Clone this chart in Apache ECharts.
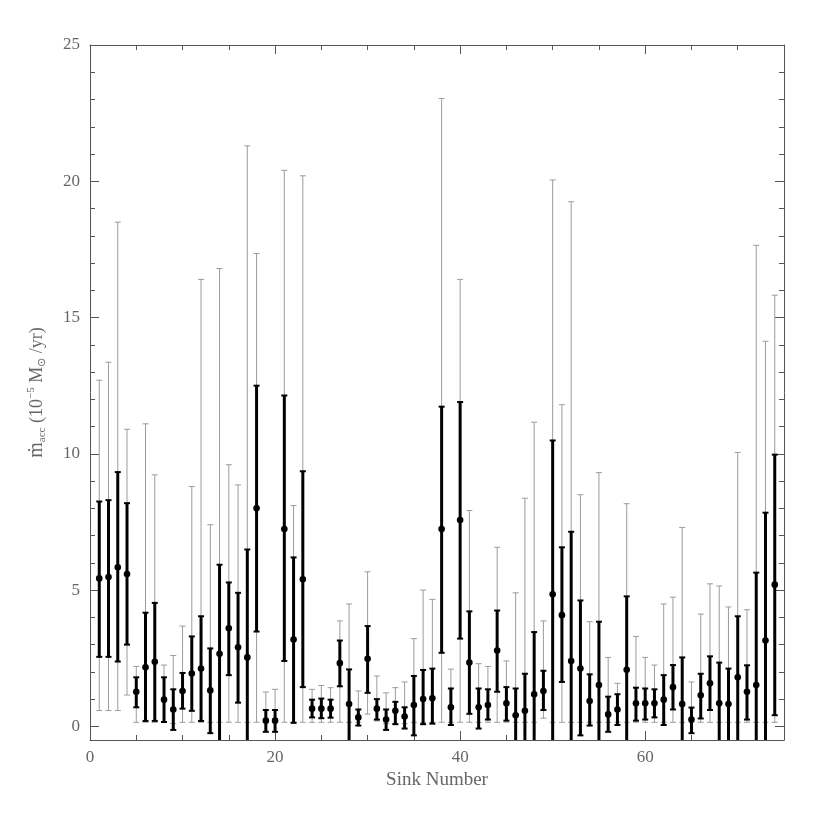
<!DOCTYPE html>
<html>
<head>
<meta charset="utf-8">
<script src="https://cdn.jsdelivr.net/npm/echarts@6/dist/echarts.min.js"></script>
<style>
html, body { margin: 0; padding: 0; background: #fff; }
#main { width: 830px; height: 830px; }
</style>
</head>
<body>
<div id="main"></div>
<script>
// sink number
var sinks = [
    1, 2, 3, 4, 5, 6, 7, 8, 9, 10,
    11, 12, 13, 14, 15, 16, 17, 18, 19, 20,
    21, 22, 23, 24, 25, 26, 27, 28, 29, 30,
    31, 32, 33, 34, 35, 36, 37, 38, 39, 40,
    41, 42, 43, 44, 45, 46, 47, 48, 49, 50,
    51, 52, 53, 54, 55, 56, 57, 58, 59, 60,
    61, 62, 63, 64, 65, 66, 67, 68, 69, 70,
    71, 72, 73, 74
];
// accretion rate (dots)
var rate = [
    5.43, 5.48, 5.84, 5.59, 1.27, 2.17, 2.37, 0.98, 0.62, 1.3,
    1.94, 2.12, 1.32, 2.66, 3.6, 2.9, 2.53, 8.0, 0.21, 0.21,
    7.24, 3.19, 5.4, 0.65, 0.65, 0.65, 2.32, 0.82, 0.33, 2.48,
    0.65, 0.25, 0.57, 0.36, 0.78, 1.0, 1.03, 7.24, 0.7, 7.57,
    2.34, 0.7, 0.78, 2.78, 0.85, 0.41, 0.57, 1.18, 1.3, 4.85,
    4.08, 2.4, 2.12, 0.93, 1.52, 0.44, 0.62, 2.08, 0.85, 0.85,
    0.85, 0.98, 1.44, 0.82, 0.25, 1.14, 1.58, 0.85, 0.82, 1.8,
    1.27, 1.52, 3.15, 5.2
];
// thick bars (1 sigma)
var sigLow = [
    2.55, 2.55, 2.38, 3.0, 0.7, 0.2, 0.2, 0.16, -0.13, 0.65,
    0.57, 0.2, -0.25, -1, 1.88, 0.87, -1, 3.48, -0.2, -0.2,
    2.4, 0.13, 1.44, 0.33, 0.3, 0.32, 1.47, -1, 0.03, 1.23,
    0.25, -0.13, 0.08, -0.08, -0.33, 0.08, 0.1, 2.7, 0.05, 3.22,
    0.46, -0.08, 0.25, 1.27, 0.21, -1, -1, -1, 0.6, -1,
    1.63, -1, -0.33, 0.03, -1, -0.2, 0.05, -1, 0.21, 0.25,
    0.33, 0.05, 0.62, -1, -0.25, 0.29, 0.6, -1, -1, -1,
    0.25, -1, -1, 0.41
];
var sigHigh = [
    8.25, 8.3, 9.33, 8.19, 1.8, 4.17, 4.53, 1.8, 1.36, 1.96,
    3.3, 4.04, 2.86, 5.93, 5.28, 4.9, 6.49, 12.5, 0.6, 0.6,
    12.14, 6.2, 9.36, 0.98, 1.02, 0.98, 3.15, 2.09, 0.62, 3.68,
    1.0, 0.62, 0.9, 0.7, 1.85, 2.07, 2.12, 11.73, 1.39, 11.9,
    4.22, 1.39, 1.36, 4.25, 1.44, 1.39, 1.93, 3.46, 2.04, 10.49,
    6.57, 7.14, 4.62, 1.91, 3.84, 1.09, 1.18, 4.77, 1.42, 1.39,
    1.36, 1.88, 2.25, 2.53, 0.69, 1.93, 2.57, 2.34, 2.12, 4.04,
    2.24, 5.64, 7.84, 9.97
];
// thin bars (full range)
var rangeLow = [
    0.58, 0.58, 0.58, 1.15, 0.15, 0.15, 0.15, 0.15, 0.1, 0.15,
    0.15, 0.15, 0.15, 0.15, 0.15, 0.15, 0.15, 0.15, 0.15, 0.15,
    0.15, 0.15, 0.15, 0.15, 0.15, 0.15, 0.15, 0.15, 0.15, 0.45,
    0.2, 0.1, 0.1, 0.1, 0.15, 0.15, 0.15, 0.15, 0.15, 0.15,
    0.15, 0.15, 0.15, 0.15, 0.15, 0.15, 0.15, 0.15, 0.3, 0.15,
    0.15, 0.15, 0.15, 0.15, 0.15, 0.15, 0.15, 0.15, 0.15, 0.15,
    0.15, 0.15, 0.15, 0.15, 0.15, 0.15, 0.15, 0.15, 0.15, 0.15,
    0.15, 0.15, 0.15, 0.15
];
var rangeHigh = [
    12.7, 13.36, 18.5, 10.9, 2.2, 11.1, 9.23, 2.25, 2.6, 3.68,
    8.8, 16.4, 7.4, 16.8, 9.6, 8.86, 21.3, 17.35, 1.26, 1.36,
    20.4, 8.1, 20.2, 1.36, 1.5, 1.42, 3.87, 4.49, 1.3, 5.67,
    1.85, 1.23, 1.42, 1.63, 3.22, 5.0, 4.66, 23.04, 2.1, 16.4,
    7.92, 2.3, 2.2, 6.57, 2.4, 4.9, 8.37, 11.16, 3.87, 20.05,
    11.8, 19.25, 8.5, 3.84, 9.31, 2.53, 1.58, 8.17, 3.3, 2.53,
    2.25, 4.49, 4.74, 7.3, 1.63, 4.12, 5.23, 5.15, 4.38, 10.05,
    4.28, 17.65, 14.13, 15.82
];
// ticks
var xMajor = [0, 20, 40, 60];
var xMinor = [5, 10, 15, 25, 30, 35, 45, 50, 55, 65, 70];
var yMajor = [0, 5, 10, 15, 20, 25];
var yMinor = [1, 2, 3, 4, 6, 7, 8, 9, 11, 12, 13, 14, 16, 17, 18, 19, 21, 22, 23, 24];

var xMin = 0, xMax = 75, yMin = -0.5, yMax = 25;
var axisColor = '#555';
var textColor = '#666';
var fontFamily = 'Liberation Serif';

var rows = sinks.map(function (s, i) {
    return [s, sigLow[i], sigHigh[i], rangeLow[i], rangeHigh[i], rate[i]];
});

function makeX(pos, ticks, len, withLine, withLabel) {
    return {
        type: 'value', position: pos, min: xMin, max: xMax,
        axisLine: { show: withLine, onZero: false, lineStyle: { color: axisColor, width: 1 } },
        axisTick: { show: true, inside: true, length: len, customValues: ticks, lineStyle: { color: axisColor } },
        axisLabel: withLabel ? { show: true, customValues: ticks, margin: 9, color: textColor, fontSize: 17, fontFamily: fontFamily } : { show: false },
        splitLine: { show: false }
    };
}
function makeY(pos, ticks, len, withLine, withLabel) {
    return {
        type: 'value', position: pos, min: yMin, max: yMax,
        axisLine: { show: withLine, onZero: false, lineStyle: { color: axisColor, width: 1 } },
        axisTick: { show: true, inside: true, length: len, customValues: ticks, lineStyle: { color: axisColor } },
        axisLabel: withLabel ? { show: true, customValues: ticks, margin: 10, color: textColor, fontSize: 17, fontFamily: fontFamily } : { show: false },
        splitLine: { show: false }
    };
}

var xAxes = [
    makeX('bottom', xMajor, 9, true, true),
    makeX('bottom', xMinor, 5, false, false),
    makeX('top', xMajor, 9, true, false),
    makeX('top', xMinor, 5, false, false)
];
xAxes[0].name = 'Sink Number';
xAxes[0].nameLocation = 'middle';
xAxes[0].nameGap = 27;
xAxes[0].nameTextStyle = { color: textColor, fontSize: 19, fontFamily: fontFamily };

var yAxes = [
    makeY('left', yMajor, 9, true, true),
    makeY('left', yMinor, 5, false, false),
    makeY('right', yMajor, 9, true, false),
    makeY('right', yMinor, 5, false, false)
];
yAxes[0].name = '{m|ṁ}{sub|acc} (10{sup|−5} M{sub|⊙} /yr)';
yAxes[0].nameLocation = 'middle';
yAxes[0].nameGap = 42;
yAxes[0].nameTextStyle = {
    color: textColor, fontSize: 18, fontFamily: fontFamily, lineHeight: 22,
    rich: {
        m: { color: textColor, fontSize: 20, fontFamily: fontFamily, lineHeight: 22 },
        sub: { color: textColor, fontSize: 11, fontFamily: fontFamily, verticalAlign: 'bottom', lineHeight: 22 },
        sup: { color: textColor, fontSize: 11, fontFamily: fontFamily, verticalAlign: 'top', lineHeight: 22 }
    }
};

function renderBars(params, api) {
    var x = api.value(0);
    var sLo = api.coord([x, api.value(1)]);
    var sHi = api.coord([x, api.value(2)]);
    var rLo = api.coord([x, api.value(3)]);
    var rHi = api.coord([x, api.value(4)]);
    var mid = api.coord([x, api.value(5)]);
    var px = sLo[0];
    var cap = 3;
    var thin = { stroke: '#9c9c9c', lineWidth: 1 };
    var thick = { stroke: '#000', lineWidth: 3 };
    var thickCap = { stroke: '#000', lineWidth: 2 };
    return {
        type: 'group',
        children: [
            { type: 'line', shape: { x1: px, y1: rLo[1], x2: px, y2: rHi[1] }, style: thin },
            { type: 'line', shape: { x1: px - cap, y1: rLo[1], x2: px + cap, y2: rLo[1] }, style: thin },
            { type: 'line', shape: { x1: px - cap, y1: rHi[1], x2: px + cap, y2: rHi[1] }, style: thin },
            { type: 'line', shape: { x1: px, y1: sLo[1], x2: px, y2: sHi[1] }, style: thick },
            { type: 'line', shape: { x1: px - cap, y1: sLo[1], x2: px + cap, y2: sLo[1] }, style: thickCap },
            { type: 'line', shape: { x1: px - cap, y1: sHi[1], x2: px + cap, y2: sHi[1] }, style: thickCap },
            { type: 'circle', shape: { cx: px, cy: mid[1], r: 3.3 }, style: { fill: '#000' } }
        ]
    };
}

var chart = echarts.init(document.getElementById('main'));
chart.setOption({
    backgroundColor: '#fff',
    animation: false,
    grid: { left: 90, right: 46, top: 45, bottom: 90 },
    xAxis: xAxes,
    yAxis: yAxes,
    series: [{
        type: 'custom',
        xAxisIndex: 0,
        yAxisIndex: 0,
        clip: true,
        renderItem: renderBars,
        encode: { x: 0, y: [1, 2, 3, 4, 5] },
        data: rows
    }]
});
</script>
</body>
</html>
